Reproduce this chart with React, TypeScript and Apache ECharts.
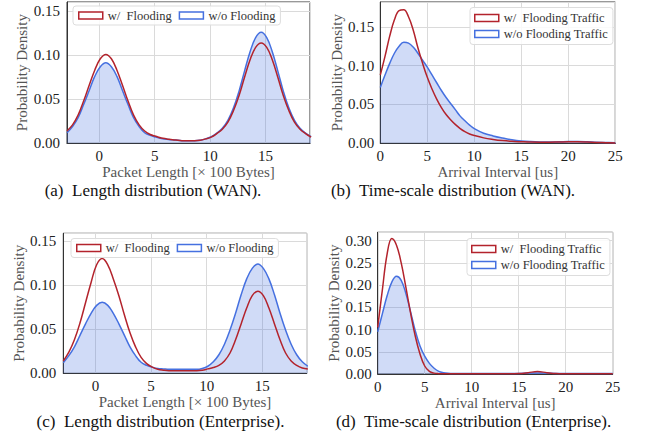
import { useEffect, useRef } from 'react';
import * as echarts from 'echarts';

// ---------- data ----------
const lenX = [
  -2.9, -2.4, -1.9, -1.4, -0.9, -0.4, 0.1, 0.6, 1.1, 1.6, 2.1, 2.6, 3.1, 3.6, 4.1,
  4.6, 5.1, 5.6, 6.1, 6.6, 7.1, 7.6, 8.1, 8.6, 9.1,
  9.6, 10.1, 10.6, 11.1, 11.6, 12.1, 12.6, 13.1, 13.6, 14.1, 14.6, 15.1, 15.6, 16.1, 16.6,
  17.1, 17.6, 18.1, 18.6, 19.1,
];
const wanLenWith = [
  0.014, 0.021, 0.032, 0.048, 0.066, 0.083, 0.096, 0.101, 0.096, 0.083, 0.066, 0.048, 0.032, 0.021, 0.014,
  0.010, 0.008, 0.006, 0.005, 0.004, 0.0035, 0.003, 0.003, 0.003, 0.0035,
  0.005, 0.007, 0.011, 0.016, 0.024, 0.037, 0.054, 0.075, 0.095, 0.109, 0.114, 0.109, 0.095, 0.075, 0.054,
  0.037, 0.024, 0.016, 0.011, 0.007,
];
const wanLenWithout = [
  0.012, 0.019, 0.029, 0.044, 0.060, 0.076, 0.087, 0.0915, 0.087, 0.076, 0.060, 0.044, 0.029, 0.019, 0.012,
  0.009, 0.007, 0.0055, 0.0045, 0.004, 0.0035, 0.003, 0.003, 0.003, 0.0035,
  0.005, 0.0075, 0.0115, 0.017, 0.026, 0.040, 0.059, 0.082, 0.104, 0.120, 0.126, 0.120, 0.104, 0.082, 0.059,
  0.040, 0.026, 0.017, 0.0115, 0.0075,
];
const entLenWith = [
  0.014, 0.024, 0.038, 0.057, 0.080, 0.103, 0.123, 0.130, 0.123, 0.107, 0.088, 0.066, 0.046, 0.030, 0.018,
  0.011, 0.007, 0.0045, 0.0035, 0.003, 0.003, 0.003, 0.003, 0.003, 0.003,
  0.0035, 0.005, 0.0065, 0.009, 0.014, 0.023, 0.038, 0.056, 0.074, 0.088, 0.093, 0.088, 0.074, 0.056, 0.038,
  0.023, 0.014, 0.009, 0.006, 0.005,
];
const entLenWithout = [
  0.012, 0.020, 0.030, 0.043, 0.056, 0.068, 0.077, 0.0805, 0.077, 0.068, 0.056, 0.043, 0.030, 0.020, 0.0125,
  0.009, 0.007, 0.0055, 0.005, 0.0045, 0.0045, 0.0045, 0.0045, 0.0045, 0.0045,
  0.0055, 0.008, 0.013, 0.021, 0.033, 0.049, 0.068, 0.089, 0.107, 0.119, 0.124, 0.119, 0.107, 0.089, 0.068,
  0.049, 0.033, 0.021, 0.013, 0.008,
];

const timeX = [
  0, 0.5, 1, 1.5, 2, 2.5, 3, 3.5, 4, 4.5, 5, 5.5, 6, 6.5, 7, 7.5, 8, 8.5, 9, 9.5, 10,
  11, 12, 13, 14, 15, 16, 17, 18, 19, 20, 21, 22, 23, 24, 25,
];
const wanTimeWith = [
  0.088, 0.112, 0.138, 0.159, 0.171, 0.172, 0.163, 0.146, 0.123, 0.103, 0.085, 0.070, 0.057, 0.046, 0.037,
  0.030, 0.024, 0.019, 0.015, 0.012, 0.010,
  0.007, 0.005, 0.0035, 0.0025, 0.002, 0.0016, 0.0015, 0.0015, 0.0017, 0.0019, 0.0019, 0.0016, 0.0011, 0.0008, 0.0005,
];
const wanTimeWithout = [
  0.072, 0.088, 0.103, 0.116, 0.125, 0.130, 0.129, 0.124, 0.116, 0.107, 0.098, 0.088, 0.078, 0.068, 0.059,
  0.051, 0.043, 0.035, 0.029, 0.0235, 0.019,
  0.013, 0.0095, 0.0068, 0.0045, 0.003, 0.0022, 0.0018, 0.0017, 0.0019, 0.0022, 0.0023, 0.002, 0.0014, 0.001, 0.0006,
];
const entTimeWith = [
  0.105, 0.19, 0.27, 0.305, 0.29, 0.25, 0.195, 0.137, 0.085, 0.045, 0.018, 0.006, 0.002, 0.0008, 0.0005,
  0.0005, 0.0005, 0.0005, 0.0005, 0.0005, 0.0005,
  0.0005, 0.0005, 0.0005, 0.0005, 0.001, 0.003, 0.0055, 0.003, 0.001, 0.0005, 0.0003, 0.0003, 0.0003, 0.0003, 0.0003,
];
const entTimeWithout = [
  0.095, 0.136, 0.176, 0.207, 0.220, 0.211, 0.181, 0.140, 0.097, 0.063, 0.040, 0.024, 0.013, 0.006, 0.003,
  0.0015, 0.001, 0.001, 0.001, 0.001, 0.001,
  0.001, 0.001, 0.001, 0.001, 0.0012, 0.002, 0.0025, 0.002, 0.0012, 0.001, 0.001, 0.001, 0.001, 0.001, 0.001,
];

const lenTicks = [0, 5, 10, 15];
const timeTicks = [0, 5, 10, 15, 20, 25];

const lenNames = ['w/\u00a0 Flooding', 'w/o Flooding'];
const timeNames = ['w/\u00a0 Flooding Traffic', 'w/o Flooding Traffic'];
const captions = [
  '(a)\u00a0 Length distribution (WAN).',
  '(b)\u00a0 Time-scale distribution (WAN).',
  '(c)\u00a0 Length distribution (Enterprise).',
  '(d)\u00a0 Time-scale distribution (Enterprise).',
];
const xNames = ['Packet Length [\u00d7 100 Bytes]', 'Arrival Interval [us]', 'Packet Length [\u00d7 100 Bytes]', 'Arrival Interval [us]'];

// ---------- styling ----------
const FONT = '"Liberation Serif", "Times New Roman", serif';
const RED = '#b3232c';
const BLUE = '#4570e0';

const panels = [
  { grid: { left: 67, top: 2, width: 243, height: 141.3 }, xMin: -2.9, xMax: 19, yMax: 0.1605, x: lenX, w: wanLenWith, wo: wanLenWithout, names: lenNames, ticks: lenTicks, labMargin: 7,
    legend: { left: 73, top: 6, orient: 'horizontal' }, cap: [153, 190] },
  { grid: { left: 380.3, top: 2, width: 235, height: 141.3 }, xMin: 0, xMax: 25, yMax: 0.182, x: timeX, w: wanTimeWith, wo: wanTimeWithout, names: timeNames, ticks: timeTicks, labMargin: 6,
    legend: { left: 470, top: 7.5, orient: 'vertical' }, cap: [453, 190] },
  { grid: { left: 63.3, top: 233.3, width: 243.4, height: 140 }, xMin: -2.9, xMax: 19, yMax: 0.1587, x: lenX, w: entLenWith, wo: entLenWithout, names: lenNames, ticks: lenTicks, labMargin: 7,
    legend: { left: 71, top: 238.5, orient: 'horizontal' }, cap: [160.5, 421.5] },
  { grid: { left: 377.7, top: 232.3, width: 235, height: 141.7 }, xMin: 0, xMax: 25, yMax: 0.319, x: timeX, w: entTimeWith, wo: entTimeWithout, names: timeNames, ticks: timeTicks, labMargin: 6,
    legend: { left: 467, top: 238.5, orient: 'vertical' }, cap: [473.5, 421] },
];

const pairs = (xs: number[], ys: number[]) => xs.map((x, i) => [x, ys[i]]);

export default function App() {
  const ref = useRef<HTMLDivElement>(null);
  useEffect(() => {
    if (!ref.current) return;
    const chart = echarts.init(ref.current, undefined, { renderer: 'svg' });
    const option: any = {
      animation: false,
      backgroundColor: '#fff',
      grid: panels.map((p) => ({ ...p.grid, show: true, borderColor: '#333', borderWidth: 1, containLabel: false })),
      xAxis: panels.map((p, i) => ({
        type: 'value', gridIndex: i, min: p.xMin, max: p.xMax,
        ...(p.xMin === 0 ? { interval: 5 } : { splitNumber: 5 }),
        axisLine: { show: true, onZero: false, lineStyle: { color: '#333', width: 1 } },
        axisTick: { show: false },
        splitLine: { show: true, lineStyle: { color: '#dadada', width: 1 } },
        axisLabel: {
          margin: 5, fontFamily: FONT, fontSize: 15, color: '#222',
          formatter: (v: number) => (p.ticks.some((t) => Math.abs(t - v) < 1e-6) ? String(v) : ''),
        },
        name: xNames[i], nameLocation: 'middle', nameGap: 21,
        nameTextStyle: { fontFamily: FONT, fontSize: 15, color: '#555' },
      })),
      yAxis: panels.map((p, i) => ({
        type: 'value', gridIndex: i, min: 0, max: p.yMax, interval: 0.05,
        axisLine: { show: true, onZero: false, lineStyle: { color: '#333', width: 1 } },
        axisTick: { show: false },
        splitLine: { show: true, lineStyle: { color: '#dadada', width: 1 } },
        axisLabel: {
          margin: p.labMargin, fontFamily: FONT, fontSize: 15, color: '#222', showMaxLabel: false,
          formatter: (v: number) => (Math.abs(Math.round(v / 0.05) * 0.05 - v) < 1e-6 ? v.toFixed(2) : ''),
        },
        name: 'Probability Density', nameLocation: 'middle', nameGap: 35,
        nameTextStyle: { fontFamily: FONT, fontSize: 15, color: '#555' },
      })),
      legend: panels.map((p) => ({
        ...p.legend,
        padding: p.legend.orient === 'vertical' ? [4, 5, 4, 4] : [3, 5, 3, 5],
        itemGap: p.legend.orient === 'vertical' ? 3 : 7,
        itemWidth: 24, itemHeight: 7,
        backgroundColor: 'rgba(255,255,255,0.85)', borderColor: '#dddddd', borderWidth: 1, borderRadius: 3,
        textStyle: { fontFamily: FONT, fontSize: 12.5, color: '#333' },
        selectedMode: false,
        data: [
          { name: p.names[0], icon: 'rect', itemStyle: { color: '#fff', borderColor: RED, borderWidth: 1.5 } },
          { name: p.names[1], icon: 'rect', itemStyle: { color: '#fff', borderColor: BLUE, borderWidth: 1.5 } },
        ],
      })),
      series: panels.flatMap((p, i) => [
        {
          type: 'line', name: p.names[1], xAxisIndex: i, yAxisIndex: i, data: pairs(p.x, p.wo),
          smooth: 0.4, showSymbol: false, clip: true, silent: true,
          lineStyle: { color: BLUE, width: 1.5 }, itemStyle: { color: BLUE },
          areaStyle: { color: BLUE, opacity: 0.25 },
        },
        {
          type: 'line', name: p.names[0], xAxisIndex: i, yAxisIndex: i, data: pairs(p.x, p.w),
          smooth: 0.4, showSymbol: false, clip: true, silent: true,
          lineStyle: { color: RED, width: 1.5 }, itemStyle: { color: RED },
        },
      ]),
      graphic: panels.map((p, i) => ({
        type: 'text', x: p.cap[0], y: p.cap[1], silent: true,
        style: { text: captions[i], fontFamily: FONT, fontSize: 17, fill: '#111', align: 'center', verticalAlign: 'middle' },
      })),
    };
    chart.setOption(option);
    return () => chart.dispose();
  }, []);
  return <div ref={ref} style={{ position: 'absolute', left: 0, top: 0, width: 645, height: 438 }} />;
}
